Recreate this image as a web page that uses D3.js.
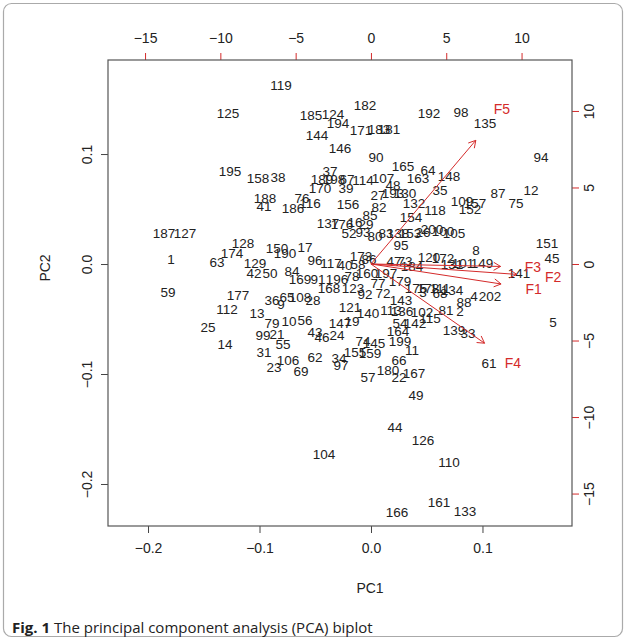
<!DOCTYPE html>
<html>
<head>
<meta charset="utf-8">
<script src="https://cdn.jsdelivr.net/npm/d3@7"></script>
<style>
body { margin: 0; background: #fff; }
svg text { font-family: "Liberation Sans", Arial, sans-serif; }
</style>
</head>
<body>
<svg id="chart" width="627" height="641"></svg>
<script>
// observation labels and scores
var obsLabels = [119,125,195,158,38,188,41,187,127,1,63,174,128,129,42,50,59,177,112,13,25,14,99,31,
	185,124,194,182,171,183,181,144,146,37,189,198,67,170,39,76,186,116,156,137,176,16,52,93,150,190,17,
	84,96,117,40,58,173,169,91,196,168,78,123,36,65,108,28,9,114,107,163,148,90,165,64,192,98,135,35,48,
	27,193,130,132,82,118,85,154,29,80,83,138,153,26,200,100,105,95,86,47,73,120,172,131,101,149,184,160,
	197,77,179,175,178,111,134,92,72,143,3,68,88,4,202,2,140,113,136,102,81,115,54,142,164,199,139,33,11,
	66,180,22,167,57,49,121,79,10,56,21,43,46,24,147,19,55,106,62,23,69,34,97,155,74,145,159,104,44,126,
	110,161,166,133,94,87,12,75,109,157,152,8,151,45,141,5,61];
var pc1 = [-0.0807,-0.1283,-0.1265,-0.1013,-0.0834,-0.0951,-0.0960,-0.1857,-0.1668,-0.1794,-0.1381,-0.1247,
	-0.1148,-0.1040,-0.1049,-0.0906,-0.1821,-0.1193,-0.1291,-0.1022,-0.1462,-0.1309,-0.0969,-0.0960,
	-0.0538,-0.0341,-0.0296,-0.0054,-0.0090,0.0072,0.0161,-0.0484,-0.0278,-0.0368,-0.0439,-0.0332,-0.0215,
	-0.0457,-0.0224,-0.0619,-0.0700,-0.0547,-0.0206,-0.0386,-0.0260,-0.0143,-0.0197,-0.0072,-0.0843,-0.0771,
	-0.0592,-0.0709,-0.0502,-0.0359,-0.0233,-0.0117,-0.0090,-0.0637,-0.0475,-0.0305,-0.0377,-0.0170,-0.0161,
	-0.0888,-0.0753,-0.0637,-0.0520,-0.0807,-0.0072,0.0108,0.0422,0.0700,0.0045,0.0287,0.0511,0.0520,0.0807,
	0.1022,0.0619,0.0197,0.0063,0.0197,0.0305,0.0386,0.0072,0.0574,-0.0009,0.0359,-0.0045,0.0036,0.0135,
	0.0242,0.0350,0.0466,0.0547,0.0646,0.0744,0.0269,-0.0018,0.0206,0.0305,0.0520,0.0646,0.0726,0.0825,
	0.0996,0.0368,-0.0036,0.0135,0.0063,0.0260,0.0404,0.0511,0.0619,0.0726,-0.0054,0.0108,0.0269,0.0466,
	0.0619,0.0834,0.0924,0.1067,0.0798,-0.0027,0.0179,0.0278,0.0457,0.0673,0.0529,0.0260,0.0395,0.0242,
	0.0260,0.0744,0.0870,0.0368,0.0251,0.0152,0.0251,0.0386,-0.0027,0.0404,-0.0188,-0.0888,-0.0735,-0.0592,
	-0.0843,-0.0502,-0.0439,-0.0305,-0.0278,-0.0170,-0.0789,-0.0744,-0.0502,-0.0870,-0.0628,-0.0287,-0.0269,
	-0.0143,-0.0072,0.0027,-0.0009,-0.0422,0.0215,0.0466,0.0700,0.0610,0.0233,0.0843,0.1525,0.1139,0.1435,
	0.1300,0.0816,0.0933,0.0888,0.0942,0.1578,0.1623,0.1327,0.1632,0.1058];
var pc2 = [0.1627,0.1373,0.0845,0.0782,0.0791,0.0600,0.0527,0.0282,0.0282,0.0045,0.0018,0.0100,
	0.0191,0.0009,-0.0082,-0.0082,-0.0255,-0.0282,-0.0409,-0.0445,-0.0573,-0.0727,-0.0645,-0.0800,
	0.1355,0.1364,0.1282,0.1445,0.1218,0.1227,0.1227,0.1173,0.1055,0.0845,0.0773,0.0773,0.0773,
	0.0691,0.0691,0.0600,0.0509,0.0555,0.0545,0.0373,0.0364,0.0382,0.0282,0.0291,0.0145,0.0100,
	0.0155,-0.0064,0.0036,0.0009,-0.0009,0,0.0073,-0.0136,-0.0136,-0.0136,-0.0218,-0.0109,-0.0218,
	-0.0327,-0.0300,-0.0300,-0.0327,-0.0364,0.0764,0.0782,0.0782,0.0800,0.0973,0.0891,0.0855,0.1373,0.1382,
	0.1282,0.0673,0.0718,0.0627,0.0645,0.0645,0.0555,0.0518,0.0491,0.0445,0.0427,0.0364,0.0255,0.0282,
	0.0282,0.0282,0.0291,0.0318,0.0300,0.0282,0.0173,0.0045,0.0027,0.0027,0.0064,0.0055,0,0.0009,
	0.0009,-0.0018,-0.0082,-0.0082,-0.0173,-0.0155,-0.0218,-0.0218,-0.0218,-0.0236,-0.0273,-0.0264,-0.0327,-0.0255,
	-0.0264,-0.0345,-0.0291,-0.0291,-0.0427,-0.0445,-0.0418,-0.0427,-0.0436,-0.0418,-0.0491,-0.0536,-0.0536,-0.0609,
	-0.0700,-0.0600,-0.0627,-0.0782,-0.0873,-0.0964,-0.1027,-0.0991,-0.1027,-0.1191,-0.0391,-0.0536,-0.0518,-0.0509,
	-0.0636,-0.0618,-0.0664,-0.0645,-0.0536,-0.0518,-0.0727,-0.0873,-0.0845,-0.0936,-0.0973,-0.0855,-0.0918,
	-0.0800,-0.0700,-0.0718,-0.0809,-0.1727,-0.1482,-0.1600,-0.1800,-0.2164,-0.2255,-0.2245,0.0973,0.0645,0.0673,
	0.0555,0.0573,0.0555,0.0500,0.0127,0.0191,0.0055,-0.0082,-0.0527,-0.0900];

// variable loadings (label positions, top/right axis units)
var varNames = ['F1','F2','F3','F4','F5'];
var load1 = [10.8, 12.1, 10.76, 9.43, 8.7];
var load2 = [-1.63, -0.85, -0.2, -6.47, 10.1];

var pcTicksX = [-0.2, -0.1, 0.0, 0.1];
var pcTicksY = [-0.2, -0.1, 0.0, 0.1];
var loadTicksX = [-15, -10, -5, 0, 5, 10];
var loadTicksY = [-15, -10, -5, 0, 5, 10];

var red = '#d42a2a';
var svg = d3.select('#chart');

var boxL = 108, boxR = 572, boxT = 60, boxB = 526;

var x = d3.scaleLinear().domain([-0.2359, 0.1803]).range([boxL, boxR]);
var y = d3.scaleLinear().domain([0.1855, -0.2382]).range([boxT, boxB]);
var xL = d3.scaleLinear().domain([-17.46, 13.35]).range([boxL, boxR]);
var yL = d3.scaleLinear().domain([13.33, -17.12]).range([boxT, boxB]);

// outer frame and caption
svg.append('rect')
	.attr('x', 3.5).attr('y', 3.5)
	.attr('width', 619).attr('height', 633)
	.attr('rx', 8)
	.attr('fill', 'none')
	.attr('stroke', '#aaa')
	.attr('stroke-width', 1.2);

var cap = svg.append('text')
	.attr('x', 12).attr('y', 633)
	.style('font-family', '"Open Sans", sans-serif')
	.style('font-size', '15px')
	.attr('fill', '#222');
cap.append('tspan').attr('font-weight', 'bold').text('Fig. 1');
cap.append('tspan').text(' The principal component analysis (PCA) biplot');

// axes
var fmt = d3.format('.1f');
var bottomAxis = d3.axisBottom(x).tickValues(pcTicksX).tickFormat(fmt).tickSizeOuter(0).tickSize(7).tickPadding(10);
var leftAxis = d3.axisLeft(y).tickValues(pcTicksY).tickFormat(fmt).tickSizeOuter(0).tickSize(7).tickPadding(10);
var topAxis = d3.axisTop(xL).tickValues(loadTicksX).tickFormat(d3.format('d')).tickSizeOuter(0).tickSize(7).tickPadding(10);
var rightAxis = d3.axisRight(yL).tickValues(loadTicksY).tickFormat(d3.format('d')).tickSizeOuter(0).tickSize(7).tickPadding(10);

function styleAxis(g, col) {
	g.select('.domain').remove();
	g.selectAll('line').attr('stroke', col);
	g.selectAll('text').attr('fill', '#222')
		.style('font-family', '"Liberation Sans", Arial, sans-serif')
		.style('font-size', '14px');
}

var gb = svg.append('g').attr('transform', 'translate(0,' + boxB + ')').call(bottomAxis);
styleAxis(gb, '#444');
var gl = svg.append('g').attr('transform', 'translate(' + boxL + ',0)').call(leftAxis);
styleAxis(gl, '#444');
gl.selectAll('text')
	.attr('x', null).attr('dy', null)
	.attr('text-anchor', 'middle')
	.attr('transform', 'translate(-16,0) rotate(-90)');
var gt = svg.append('g').attr('transform', 'translate(0,' + boxT + ')').call(topAxis);
styleAxis(gt, red);
var gr = svg.append('g').attr('transform', 'translate(' + boxR + ',0)').call(rightAxis);
styleAxis(gr, red);
gr.selectAll('text')
	.attr('x', null).attr('dy', null)
	.attr('text-anchor', 'middle')
	.attr('transform', 'translate(22,0) rotate(-90)');

// plot box
svg.append('rect')
	.attr('x', boxL).attr('y', boxT)
	.attr('width', boxR - boxL).attr('height', boxB - boxT)
	.attr('fill', 'none')
	.attr('stroke', '#555')
	.attr('stroke-width', 1.2);

svg.append('text')
	.attr('x', 370).attr('y', 593)
	.attr('text-anchor', 'middle')
	.style('font-size', '14px').attr('fill', '#222')
	.text('PC1');
svg.append('text')
	.attr('transform', 'translate(50,268) rotate(-90)')
	.attr('text-anchor', 'middle')
	.style('font-size', '14px').attr('fill', '#222')
	.text('PC2');

// observation labels
svg.append('g').selectAll('text')
	.data(obsLabels)
	.enter().append('text')
	.attr('x', function(d, i) { return x(pc1[i]); })
	.attr('y', function(d, i) { return y(pc2[i]); })
	.attr('dy', '0.35em')
	.attr('text-anchor', 'middle')
	.style('font-size', '13.5px')
	.attr('fill', '#222')
	.text(function(d) { return d; });

// variable arrows
var arrows = svg.append('g');
varNames.forEach(function(name, i) {
	var x0 = xL(0), y0 = yL(0);
	var x1 = xL(load1[i] * 0.8), y1 = yL(load2[i] * 0.8);
	var ang = Math.atan2(y1 - y0, x1 - x0);
	var len = 8, spread = Math.PI / 6;

	arrows.append('line')
		.attr('x1', x0).attr('y1', y0)
		.attr('x2', x1).attr('y2', y1)
		.attr('stroke', red).attr('stroke-width', 1);

	[-spread, spread].forEach(function(s) {
		arrows.append('line')
			.attr('x1', x1).attr('y1', y1)
			.attr('x2', x1 - len * Math.cos(ang + s))
			.attr('y2', y1 - len * Math.sin(ang + s))
			.attr('stroke', red).attr('stroke-width', 1);
	});

	arrows.append('text')
		.attr('x', xL(load1[i])).attr('y', yL(load2[i]))
		.attr('dy', '0.35em')
		.attr('text-anchor', 'middle')
		.style('font-size', '14px')
		.attr('fill', red)
		.text(name);
});
</script>
</body>
</html>
